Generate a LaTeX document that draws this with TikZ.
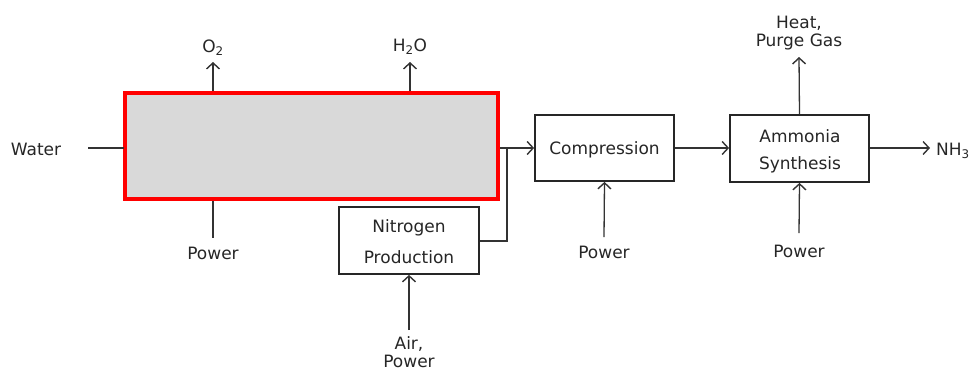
\documentclass[tikz,border=0pt]{standalone}
\usepackage{fontspec}
\setmainfont{DejaVu Sans}
\usetikzlibrary{arrows.meta}
\begin{document}
\begin{tikzpicture}[x=1pt,y=-1pt,
  every node/.style={font=\fontsize{17}{19}\selectfont, text=black!85, inner sep=0pt},
  proc/.style={draw=black!85, line width=1.8pt, fill=white},
  flow/.style={draw=black!80, line width=1.3pt},
  arr/.style={flow, -{Straight Barb[length=6pt,width=13pt,line width=1.4pt]}},
  lbl/.style={align=center}]
\useasboundingbox (0,0) rectangle (971,370);
% nodes (boxes)
\coordinate (elTL) at (125,93);
\coordinate (elBR) at (498,199);
\path[draw=red, line width=3.8pt, fill=black!15] (elTL) rectangle (elBR);
\node[proc, minimum width=140pt, minimum height=67pt] (n2) at (409,240.5) {};
\node at (409,228) {Nitrogen};
\node at (409,257) {Production};
\node[proc, minimum width=139pt, minimum height=66pt] (comp) at (604.5,148) {};
\node at (604.5,150) {Compression};
\node[proc, minimum width=139pt, minimum height=67pt] (amm) at (799.5,148.5) {};
\node at (800,136) {Ammonia};
\node at (800,165) {Synthesis};
% labels
\node (water) at (36,149) {Water};
\node (o2) at (213,48) {O\textsubscript{2}};
\node (h2o) at (410,47) {H\textsubscript{2}O};
\node (pw1) at (213,253) {Power};
\node (air) at (409,344) {Air,};
\node (airp) at (409,361) {Power};
\node (pw2) at (604,252) {Power};
\node (heat) at (799,23) {Heat,};
\node (purge) at (799,42) {Purge Gas};
\node (pw3) at (799,251) {Power};
\node[anchor=west] (nh3) at (936,151) {NH\textsubscript{3}};
% connector coordinates
\coordinate (wIn) at (88,148);
\coordinate (wBox) at (124,148);
\coordinate (o2b) at (213,91);
\coordinate (o2t) at (213,62);
\coordinate (h2ob) at (410,91);
\coordinate (h2ot) at (410,62);
\coordinate (pw1t) at (213,201);
\coordinate (pw1b) at (213,238);
\coordinate (elOut) at (500,148);
\coordinate (jn) at (507,148);
\coordinate (jn2) at (507,241);
\coordinate (airB) at (409,330);
\coordinate (pw2B) at (604,237);
\coordinate (pw3B) at (799,233);
\coordinate (heatT) at (799,57);
\coordinate (nh3E) at (930,148);
% connectors
\draw[flow] (wIn) -- (wBox);
\draw[arr] (o2b) -- (o2t);
\draw[arr] (h2ob) -- (h2ot);
\draw[flow] (pw1t) -- (pw1b);
\draw[arr] (elOut) -- (comp.west);
\draw[flow] (n2.east |- jn2) -- (jn2) -- (jn);
\draw[arr] (airB) -- (n2.south);
\draw[arr] (pw2B) -- (comp.south);
\draw[arr] (comp.east) -- (amm.west |- comp.east);
\draw[arr] (pw3B) -- (amm.south);
\draw[arr] (amm.north) -- (heatT);
\draw[arr] (amm.east |- comp.east) -- (nh3E);
\end{tikzpicture}
\end{document}
